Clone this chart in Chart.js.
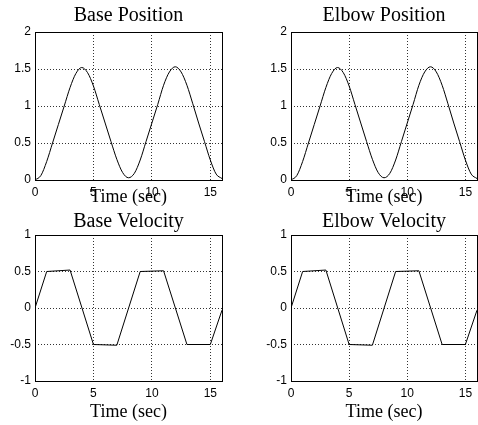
<!doctype html>
<html>
<head>
<meta charset="utf-8">
<script src="https://cdn.jsdelivr.net/npm/chart.js"></script>
<style>
    body { margin: 0; background: #fff; }
    #wrap { position: relative; width: 478px; height: 425px; overflow: hidden; }
    canvas { position: absolute; }
</style>
</head>
<body>
<div id="wrap">
    <canvas id="basePos" style="left:0px;top:0px"></canvas>
    <canvas id="elbowPos" style="left:256px;top:0px"></canvas>
    <canvas id="baseVel" style="left:0px;top:205px"></canvas>
    <canvas id="elbowVel" style="left:256px;top:205px"></canvas>
</div>
<script>
    // time samples for the position curves (sec)
    const posTime = [0, 0.5, 1, 1.5, 2, 2.5, 3, 3.5, 4, 4.5, 5, 5.5, 6, 6.5, 7, 7.5, 8,
        8.5, 9, 9.5, 10, 10.5, 11, 11.5, 12, 12.5, 13, 13.5, 14, 14.5, 15, 15.5, 16];
    const basePosition = [0, 0.06, 0.25, 0.5, 0.75, 1.0, 1.25, 1.44, 1.52, 1.45, 1.27,
        1.02, 0.77, 0.52, 0.28, 0.1, 0.03, 0.09, 0.27, 0.52, 0.77, 1.02, 1.28, 1.46,
        1.53, 1.46, 1.28, 1.03, 0.77, 0.52, 0.27, 0.08, 0.02];
    const elbowPosition = [0, 0.06, 0.25, 0.5, 0.75, 1.0, 1.25, 1.44, 1.52, 1.45, 1.27,
        1.02, 0.77, 0.52, 0.28, 0.1, 0.03, 0.09, 0.27, 0.52, 0.77, 1.02, 1.28, 1.46,
        1.53, 1.46, 1.28, 1.03, 0.77, 0.52, 0.27, 0.08, 0.02];

    // velocity corners (sec)
    const velTime = [0, 1, 3, 5, 7, 9, 11, 13, 15, 16];
    const baseVelocity = [0, 0.5, 0.52, -0.5, -0.51, 0.5, 0.51, -0.5, -0.5, -0.03];
    const elbowVelocity = [0, 0.5, 0.52, -0.5, -0.51, 0.5, 0.51, -0.5, -0.5, -0.03];

    const xTicks = [0, 5, 10, 15];

    // draw the closed box round the plot area
    const framePlugin = {
        id: "frame",
        afterDatasetsDraw(chart) {
            const { ctx, chartArea: a } = chart;
            const l = Math.floor(a.left) + 0.5, r = Math.floor(a.right) + 0.5;
            const t = Math.floor(a.top) + 0.5, b = Math.floor(a.bottom) + 0.5;
            ctx.save();
            ctx.strokeStyle = "#000";
            ctx.lineWidth = 1;
            ctx.strokeRect(l, t, r - l, b - t);
            ctx.restore();
        },
    };

    function makePanel(id, title, xs, ys, yMin, yMax, opts) {
        const canvas = document.getElementById(id);
        canvas.width = opts.w;
        canvas.height = opts.h;
        canvas.style.width = opts.w + "px";
        canvas.style.height = opts.h + "px";
        const grid = {
            color: "#333",
            lineWidth: 1,
            drawTicks: false,
        };
        return new Chart(canvas.getContext("2d"), {
            type: "scatter",
            data: {
                datasets: [
                    {
                        data: xs.map((x, i) => ({ x: x, y: ys[i] })),
                        showLine: true,
                        borderColor: "#000",
                        borderWidth: 1,
                        pointRadius: 0,
                        cubicInterpolationMode: opts.smooth ? "monotone" : "default",
                        tension: 0,
                    },
                ],
            },
            options: {
                responsive: false,
                animation: false,
                layout: { padding: { left: 0, right: opts.padRight, top: 0, bottom: 0 } },
                plugins: {
                    legend: { display: false },
                    tooltip: { enabled: false },
                    title: {
                        display: true,
                        fullSize: false,
                        text: title,
                        color: "#000",
                        font: { family: "Liberation Serif", size: 20, weight: "normal", lineHeight: 1 },
                        padding: { top: opts.titleTop, bottom: opts.titleBottom },
                    },
                },
                scales: {
                    x: {
                        type: "linear",
                        min: 0,
                        max: 16,
                        afterBuildTicks: (s) => { s.ticks = xTicks.map((v) => ({ value: v })); },
                        afterFit: (s) => { s.height = opts.xh; },
                        ticks: {
                            color: "#000",
                            padding: 5,
                            font: { family: "Liberation Sans", size: 12 },
                        },
                        grid: Object.assign({ borderDash: [1, 2] }, grid),
                        border: { display: false, dash: [1, 2] },
                        title: {
                            display: true,
                            text: "Time (sec)",
                            color: "#000",
                            font: { family: "Liberation Serif", size: 18, lineHeight: 1 },
                            padding: { top: 0, bottom: 3.4 },
                        },
                    },
                    y: {
                        min: yMin,
                        max: yMax,
                        afterFit: (s) => { s.width = 35; },
                        ticks: {
                            stepSize: 0.5,
                            color: "#000",
                            padding: 4,
                            font: { family: "Liberation Sans", size: 12 },
                            callback: (v) => String(Number(v)),
                        },
                        grid: grid,
                        border: { display: false, dash: [1, 2] },
                    },
                },
            },
            plugins: [framePlugin],
        });
    }

    const topRow = { h: 210, xh: 30, titleTop: 6, titleBottom: 6, smooth: true };
    const botRow = { h: 220, xh: 44, titleTop: 7, titleBottom: 3, smooth: false };
    const leftCol = { w: 240, padRight: 18 };
    const rightCol = { w: 222, padRight: 1 };

    makePanel("basePos", "Base Position", posTime, basePosition, 0, 2,
        Object.assign({}, leftCol, topRow));
    makePanel("elbowPos", "Elbow Position", posTime, elbowPosition, 0, 2,
        Object.assign({}, rightCol, topRow));
    makePanel("baseVel", "Base Velocity", velTime, baseVelocity, -1, 1,
        Object.assign({}, leftCol, botRow));
    makePanel("elbowVel", "Elbow Velocity", velTime, elbowVelocity, -1, 1,
        Object.assign({}, rightCol, botRow));
</script>
</body>
</html>
